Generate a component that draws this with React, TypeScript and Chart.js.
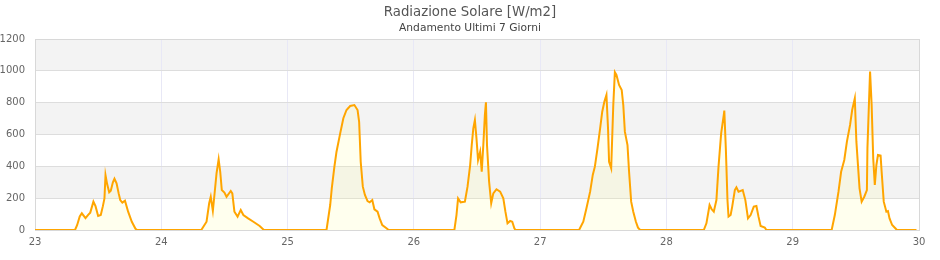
import React, { useEffect, useRef } from 'react';
import { Chart, registerables } from 'chart.js';

Chart.register(...registerables);

const TITLE = 'Radiazione Solare [W/m2]';
const SUBTITLE = 'Andamento Ultimi 7 Giorni';
const X_MIN = 23;
const X_MAX = 30;
const Y_MIN = 0;
const Y_MAX = 1200;
const Y_STEP = 200;

// [hour of day, W/m2]
const day23: [number, number][] = [[7.6, 0], [8.0, 30], [8.5, 85], [8.9, 105], [9.6, 75], [10.1, 95], [10.5, 109], [11.1, 178], [11.5, 150], [12.0, 88], [12.5, 94], [12.9, 150], [13.2, 199], [13.4, 345], [13.7, 290], [14.1, 237], [14.4, 247], [14.8, 300], [15.1, 322], [15.5, 293], [15.9, 230], [16.2, 188], [16.6, 172], [17.1, 184], [17.7, 115], [18.4, 52], [19.1, 8], [19.4, 0]];
const day24: [number, number][] = [[7.6, 0], [8.6, 52], [9.1, 168], [9.4, 209], [9.8, 121], [10.1, 220], [10.5, 356], [10.9, 444], [11.2, 366], [11.5, 251], [12.0, 235], [12.4, 209], [13.2, 245], [13.5, 230], [13.9, 115], [14.5, 84], [15.1, 126], [15.6, 94], [16.5, 73], [17.5, 52], [18.7, 25], [19.5, 0]];
const day25: [number, number][] = [[7.4, 0], [8.1, 157], [8.4, 262], [8.9, 398], [9.3, 492], [10.0, 607], [10.6, 702], [11.2, 754], [11.9, 779], [12.7, 785], [13.3, 754], [13.6, 680], [13.9, 429], [14.3, 272], [14.7, 220], [15.2, 182], [15.6, 174], [16.1, 188], [16.5, 130], [17.1, 115], [17.5, 73], [18.0, 31], [18.8, 11], [19.2, 0]];
const day26: [number, number][] = [[7.7, 0], [8.1, 94], [8.4, 199], [8.9, 174], [9.7, 178], [10.2, 272], [10.7, 408], [11.0, 534], [11.3, 639], [11.6, 691], [11.9, 576], [12.2, 440], [12.6, 492], [12.9, 366], [13.2, 534], [13.5, 723], [13.7, 802], [13.9, 534], [14.3, 304], [14.7, 168], [15.1, 230], [15.7, 256], [16.4, 241], [17.0, 199], [17.4, 115], [17.8, 42], [18.3, 57], [18.7, 52], [19.1, 11], [19.3, 0]];
const day27: [number, number][] = [[7.4, 0], [8.2, 52], [8.8, 136], [9.5, 241], [10.0, 346], [10.4, 398], [10.9, 513], [11.4, 639], [11.8, 743], [12.2, 806], [12.6, 848], [12.9, 639], [13.1, 429], [13.5, 388], [13.9, 785], [14.2, 991], [14.5, 974], [15.0, 911], [15.5, 880], [15.8, 785], [16.1, 618], [16.6, 534], [16.9, 366], [17.3, 178], [17.7, 115], [18.2, 52], [18.6, 15], [19.0, 0]];
const day28: [number, number][] = [[7.1, 0], [7.6, 42], [8.2, 157], [8.6, 130], [9.0, 115], [9.5, 188], [9.9, 398], [10.4, 607], [10.9, 723], [11.0, 750], [11.3, 503], [11.6, 188], [11.8, 84], [12.2, 94], [12.5, 147], [13.0, 251], [13.3, 268], [13.7, 241], [14.5, 251], [15.0, 188], [15.5, 73], [16.0, 94], [16.6, 147], [17.1, 151], [17.5, 84], [17.9, 25], [18.7, 15], [19.0, 0]];
const day29: [number, number][] = [[7.4, 0], [8.0, 94], [8.7, 241], [9.2, 366], [9.8, 440], [10.3, 555], [10.9, 660], [11.3, 754], [11.8, 827], [12.1, 555], [12.4, 408], [12.7, 262], [13.1, 178], [13.6, 209], [14.1, 251], [14.2, 513], [14.5, 806], [14.7, 995], [15.0, 785], [15.3, 450], [15.6, 283], [15.9, 408], [16.2, 471], [16.7, 467], [16.9, 366], [17.3, 178], [17.8, 115], [18.1, 119], [18.4, 73], [18.9, 31], [19.5, 11], [19.8, 0]];

const DAYS: [number, [number, number][]][] = [
  [23, day23], [24, day24], [25, day25], [26, day26], [27, day27], [28, day28], [29, day29],
];
const SERIES_START: [number, number] = [23, 0];
const SERIES_END: [number, number] = [29.98, 0];

const FONT = '"DejaVu Sans", sans-serif';

const bandsPlugin = {
  id: 'bands',
  beforeDraw(chart: any) {
    const { ctx, chartArea, scales } = chart;
    const y = scales.y;
    ctx.save();
    ctx.fillStyle = '#f3f3f3';
    for (let v = Y_STEP; v < Y_MAX; v += 2 * Y_STEP) {
      const top = y.getPixelForValue(v + Y_STEP);
      const bot = y.getPixelForValue(v);
      ctx.fillRect(chartArea.left, top, chartArea.right - chartArea.left, bot - top);
    }
    ctx.restore();
  },
  beforeDatasetsDraw(chart: any) {
    const { ctx, chartArea } = chart;
    ctx.save();
    ctx.strokeStyle = '#d8d8d8';
    ctx.lineWidth = 1;
    ctx.strokeRect(
      Math.round(chartArea.left) + 0.5,
      Math.round(chartArea.top) + 0.5,
      Math.round(chartArea.right - chartArea.left),
      Math.round(chartArea.bottom - chartArea.top)
    );
    ctx.restore();
  },
};

export default function App() {
  const ref = useRef<HTMLCanvasElement | null>(null);

  useEffect(() => {
    if (!ref.current) return;
    const points: { x: number; y: number }[] = [{ x: SERIES_START[0], y: SERIES_START[1] }];
    DAYS.forEach(([d, arr]) => {
      arr.forEach(([h, v]) => points.push({ x: d + h / 24, y: v }));
    });
    points.push({ x: SERIES_END[0], y: SERIES_END[1] });

    const chart = new Chart(ref.current, {
      type: 'line',
      data: {
        datasets: [
          {
            data: points,
            borderColor: '#ffa500',
            borderWidth: 2,
            backgroundColor: 'rgba(255,255,150,0.16)',
            fill: 'origin',
            pointRadius: 0,
            tension: 0,
          },
        ],
      },
      options: {
        responsive: false,
        animation: false,
        devicePixelRatio: 1,
        layout: { padding: { left: 0, right: 0, top: 0, bottom: 6 } },
        plugins: {
          legend: { display: false },
          tooltip: { enabled: false },
          title: {
            display: true,
            text: TITLE,
            color: '#555',
            font: { family: FONT, size: 13.3, weight: 'normal' },
            padding: { top: 5, bottom: 0 },
          },
          subtitle: {
            display: true,
            text: SUBTITLE,
            color: '#444',
            font: { family: FONT, size: 10.7, weight: 'normal' },
            padding: { top: 1, bottom: 4.2 },
          },
        },
        scales: {
          x: {
            type: 'linear',
            min: X_MIN,
            max: X_MAX,
            ticks: {
              stepSize: 1,
              color: '#666',
              font: { family: FONT, size: 10 },
              padding: 6,
              maxRotation: 0,
              callback: (v: any) => String(v),
            },
            grid: { color: '#e8e8f6', drawTicks: false },
            border: { display: false },
          },
          y: {
            min: Y_MIN,
            max: Y_MAX,
            ticks: {
              stepSize: Y_STEP,
              color: '#666',
              font: { family: FONT, size: 10 },
              padding: 10,
              callback: (v: any) => String(v),
            },
            grid: { color: '#dddddd', drawTicks: false },
            border: { display: false },
            afterFit: (scale: any) => {
              scale.width = 35;
            },
          },
          yRight: {
            position: 'right',
            min: Y_MIN,
            max: Y_MAX,
            display: true,
            ticks: { display: false },
            grid: { display: false, drawTicks: false },
            border: { display: false },
            afterFit: (scale: any) => {
              scale.width = 21;
            },
          },
        },
      },
      plugins: [bandsPlugin],
    });
    return () => chart.destroy();
  }, []);

  return (
    <div style={{ position: 'absolute', left: 0, top: 0, width: 940, height: 260 }}>
      <canvas ref={ref} width={940} height={260} />
    </div>
  );
}
